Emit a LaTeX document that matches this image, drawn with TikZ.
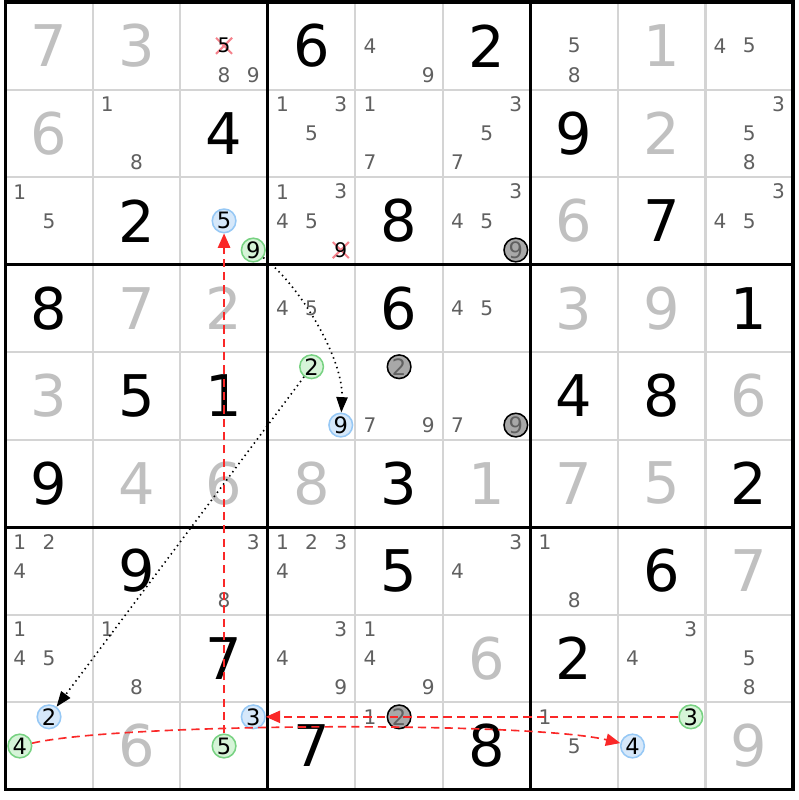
\documentclass[tikz,border=0pt]{standalone}
\usepackage{fontspec}
\setmainfont{DejaVu Sans}
\usetikzlibrary{arrows.meta}

\definecolor{thingrid}{RGB}{212,212,212}
\definecolor{solvedgrey}{RGB}{192,192,192}
\definecolor{candgrey}{RGB}{96,96,96}
\definecolor{bluefill}{RGB}{214,232,250}
\definecolor{blueline}{RGB}{150,200,245}
\definecolor{greenfill}{RGB}{214,244,216}
\definecolor{greenline}{RGB}{120,210,130}
\definecolor{darkfill}{RGB}{168,168,168}
\definecolor{linkred}{RGB}{250,40,40}
\definecolor{strikered}{RGB}{245,130,140}

\begin{document}
\begin{tikzpicture}[x=0.25cm, y=0.25cm,
    given/.style={font=\fontsize{28}{28}\selectfont, text=black, inner sep=0pt},
    solved/.style={given, text=solvedgrey},
    cand/.style={font=\fontsize{9.8}{10}\selectfont, text=candgrey, inner sep=0pt},
    hl/.style={circle, line width=0.75pt, minimum size=0.405cm, inner sep=0pt, font=\fontsize{11}{11}\selectfont},
    onblue/.style={hl, draw=blueline, fill=bluefill, text=black},
    ongreen/.style={hl, draw=greenline, fill=greenfill, text=black},
    ondark/.style={hl, draw=black, fill=darkfill, text=candgrey},
    strike/.style={strikered, line width=1pt},
    thinline/.style={thingrid, line width=1pt},
    boxline/.style={black, line width=1.5pt},
    redlink/.style={linkred, line width=0.8pt, dash pattern=on 4pt off 2.5pt, -{Triangle[length=7pt,width=6pt]}},
    chain/.style={black, line width=0.8pt, dash pattern=on 0.7pt off 1.8pt, -{Triangle[length=7.5pt,width=5.5pt]}}]
    \path[fill=white] (-0.36, -0.7) rectangle (54.36, 54.14);

    \draw[thinline] (6, 0) to (6, 54);
    \draw[thinline] (12, 0) to (12, 54);
    \draw[thinline] (24, 0) to (24, 54);
    \draw[thinline] (30, 0) to (30, 54);
    \draw[thinline] (42, 0) to (42, 54);
    \draw[thinline] (48, 0) to (48, 54);
    \draw[thinline] (0, 6) to (54, 6);
    \draw[thinline] (0, 12) to (54, 12);
    \draw[thinline] (0, 24) to (54, 24);
    \draw[thinline] (0, 30) to (54, 30);
    \draw[thinline] (0, 42) to (54, 42);
    \draw[thinline] (0, 48) to (54, 48);
    \draw[boxline] (18, 0) to (18, 54);
    \draw[boxline] (36, 0) to (36, 54);
    \draw[boxline] (0, 18) to (54, 18);
    \draw[boxline] (0, 36) to (54, 36);
    \draw[boxline] (0, 0) rectangle (54, 54);

    % row 1
    \node[solved] (r1c1) at (3, 51) {7};
    \node[solved] (r1c2) at (9, 51) {3};
    \draw[strike] (15, 51) +(-0.55, -0.55) -- +(0.55, 0.55) (15, 51) +(-0.55, 0.55) -- +(0.55, -0.55);
    \node[cand, text=black] (r1c3n5) at (15, 51) {5};
    \node[cand] (r1c3n8) at (15, 49) {8};
    \node[cand] (r1c3n9) at (17, 49) {9};
    \node[given] (r1c4) at (21, 51) {6};
    \node[cand] (r1c5n4) at (25, 51) {4};
    \node[cand] (r1c5n9) at (29, 49) {9};
    \node[given] (r1c6) at (33, 51) {2};
    \node[cand] (r1c7n5) at (39, 51) {5};
    \node[cand] (r1c7n8) at (39, 49) {8};
    \node[solved] (r1c8) at (45, 51) {1};
    \node[cand] (r1c9n4) at (49, 51) {4};
    \node[cand] (r1c9n5) at (51, 51) {5};

    % row 2
    \node[solved] (r2c1) at (3, 45) {6};
    \node[cand] (r2c2n1) at (7, 47) {1};
    \node[cand] (r2c2n8) at (9, 43) {8};
    \node[given] (r2c3) at (15, 45) {4};
    \node[cand] (r2c4n1) at (19, 47) {1};
    \node[cand] (r2c4n3) at (23, 47) {3};
    \node[cand] (r2c4n5) at (21, 45) {5};
    \node[cand] (r2c5n1) at (25, 47) {1};
    \node[cand] (r2c5n7) at (25, 43) {7};
    \node[cand] (r2c6n3) at (35, 47) {3};
    \node[cand] (r2c6n5) at (33, 45) {5};
    \node[cand] (r2c6n7) at (31, 43) {7};
    \node[given] (r2c7) at (39, 45) {9};
    \node[solved] (r2c8) at (45, 45) {2};
    \node[cand] (r2c9n3) at (53, 47) {3};
    \node[cand] (r2c9n5) at (51, 45) {5};
    \node[cand] (r2c9n8) at (51, 43) {8};

    % row 3
    \node[cand] (r3c1n1) at (1, 41) {1};
    \node[cand] (r3c1n5) at (3, 39) {5};
    \node[given] (r3c2) at (9, 39) {2};
    \node[onblue] (r3c3n5) at (15, 39) {5};
    \node[ongreen] (r3c3n9) at (17, 37) {9};
    \node[cand] (r3c4n1) at (19, 41) {1};
    \node[cand] (r3c4n3) at (23, 41) {3};
    \node[cand] (r3c4n4) at (19, 39) {4};
    \node[cand] (r3c4n5) at (21, 39) {5};
    \draw[strike] (23, 37) +(-0.55, -0.55) -- +(0.55, 0.55) (23, 37) +(-0.55, 0.55) -- +(0.55, -0.55);
    \node[cand, text=black] (r3c4n9) at (23, 37) {9};
    \node[given] (r3c5) at (27, 39) {8};
    \node[cand] (r3c6n3) at (35, 41) {3};
    \node[cand] (r3c6n4) at (31, 39) {4};
    \node[cand] (r3c6n5) at (33, 39) {5};
    \node[ondark] (r3c6n9) at (35, 37) {9};
    \node[solved] (r3c7) at (39, 39) {6};
    \node[given] (r3c8) at (45, 39) {7};
    \node[cand] (r3c9n3) at (53, 41) {3};
    \node[cand] (r3c9n4) at (49, 39) {4};
    \node[cand] (r3c9n5) at (51, 39) {5};

    % row 4
    \node[given] (r4c1) at (3, 33) {8};
    \node[solved] (r4c2) at (9, 33) {7};
    \node[solved] (r4c3) at (15, 33) {2};
    \node[cand] (r4c4n4) at (19, 33) {4};
    \node[cand] (r4c4n5) at (21, 33) {5};
    \node[given] (r4c5) at (27, 33) {6};
    \node[cand] (r4c6n4) at (31, 33) {4};
    \node[cand] (r4c6n5) at (33, 33) {5};
    \node[solved] (r4c7) at (39, 33) {3};
    \node[solved] (r4c8) at (45, 33) {9};
    \node[given] (r4c9) at (51, 33) {1};

    % row 5
    \node[solved] (r5c1) at (3, 27) {3};
    \node[given] (r5c2) at (9, 27) {5};
    \node[given] (r5c3) at (15, 27) {1};
    \node[ongreen] (r5c4n2) at (21, 29) {2};
    \node[onblue] (r5c4n9) at (23, 25) {9};
    \node[ondark] (r5c5n2) at (27, 29) {2};
    \node[cand] (r5c5n7) at (25, 25) {7};
    \node[cand] (r5c5n9) at (29, 25) {9};
    \node[cand] (r5c6n7) at (31, 25) {7};
    \node[ondark] (r5c6n9) at (35, 25) {9};
    \node[given] (r5c7) at (39, 27) {4};
    \node[given] (r5c8) at (45, 27) {8};
    \node[solved] (r5c9) at (51, 27) {6};

    % row 6
    \node[given] (r6c1) at (3, 21) {9};
    \node[solved] (r6c2) at (9, 21) {4};
    \node[solved] (r6c3) at (15, 21) {6};
    \node[solved] (r6c4) at (21, 21) {8};
    \node[given] (r6c5) at (27, 21) {3};
    \node[solved] (r6c6) at (33, 21) {1};
    \node[solved] (r6c7) at (39, 21) {7};
    \node[solved] (r6c8) at (45, 21) {5};
    \node[given] (r6c9) at (51, 21) {2};

    % row 7
    \node[cand] (r7c1n1) at (1, 17) {1};
    \node[cand] (r7c1n2) at (3, 17) {2};
    \node[cand] (r7c1n4) at (1, 15) {4};
    \node[given] (r7c2) at (9, 15) {9};
    \node[cand] (r7c3n3) at (17, 17) {3};
    \node[cand] (r7c3n8) at (15, 13) {8};
    \node[cand] (r7c4n1) at (19, 17) {1};
    \node[cand] (r7c4n2) at (21, 17) {2};
    \node[cand] (r7c4n3) at (23, 17) {3};
    \node[cand] (r7c4n4) at (19, 15) {4};
    \node[given] (r7c5) at (27, 15) {5};
    \node[cand] (r7c6n3) at (35, 17) {3};
    \node[cand] (r7c6n4) at (31, 15) {4};
    \node[cand] (r7c7n1) at (37, 17) {1};
    \node[cand] (r7c7n8) at (39, 13) {8};
    \node[given] (r7c8) at (45, 15) {6};
    \node[solved] (r7c9) at (51, 15) {7};

    % row 8
    \node[cand] (r8c1n1) at (1, 11) {1};
    \node[cand] (r8c1n4) at (1, 9) {4};
    \node[cand] (r8c1n5) at (3, 9) {5};
    \node[cand] (r8c2n1) at (7, 11) {1};
    \node[cand] (r8c2n8) at (9, 7) {8};
    \node[given] (r8c3) at (15, 9) {7};
    \node[cand] (r8c4n3) at (23, 11) {3};
    \node[cand] (r8c4n4) at (19, 9) {4};
    \node[cand] (r8c4n9) at (23, 7) {9};
    \node[cand] (r8c5n1) at (25, 11) {1};
    \node[cand] (r8c5n4) at (25, 9) {4};
    \node[cand] (r8c5n9) at (29, 7) {9};
    \node[solved] (r8c6) at (33, 9) {6};
    \node[given] (r8c7) at (39, 9) {2};
    \node[cand] (r8c8n3) at (47, 11) {3};
    \node[cand] (r8c8n4) at (43, 9) {4};
    \node[cand] (r8c9n5) at (51, 9) {5};
    \node[cand] (r8c9n8) at (51, 7) {8};

    % row 9
    \node[onblue] (r9c1n2) at (3, 5) {2};
    \node[ongreen] (r9c1n4) at (1, 3) {4};
    \node[solved] (r9c2) at (9, 3) {6};
    \node[onblue] (r9c3n3) at (17, 5) {3};
    \node[ongreen] (r9c3n5) at (15, 3) {5};
    \node[given] (r9c4) at (21, 3) {7};
    \node[cand] (r9c5n1) at (25, 5) {1};
    \node[ondark] (r9c5n2) at (27, 5) {2};
    \node[given] (r9c6) at (33, 3) {8};
    \node[cand] (r9c7n1) at (37, 5) {1};
    \node[cand] (r9c7n5) at (39, 3) {5};
    \node[ongreen] (r9c8n3) at (47, 5) {3};
    \node[onblue] (r9c8n4) at (43, 3) {4};
    \node[solved] (r9c9) at (51, 3) {9};

    % links
    \draw[redlink] (r9c3n5) -- (r3c3n5);
    \draw[redlink] (r9c8n3) -- (r9c3n3);
    \draw[redlink] (r9c1n4) .. controls (7.9, 4.6) and (35.9, 4.7) .. (r9c8n4);
    \draw[chain] (r3c3n9) .. controls (20.2, 34.6) and (23.2, 29.5) .. (r5c4n9);
    \draw[chain] (r5c4n2) -- (r9c1n2);
\end{tikzpicture}
\end{document}
